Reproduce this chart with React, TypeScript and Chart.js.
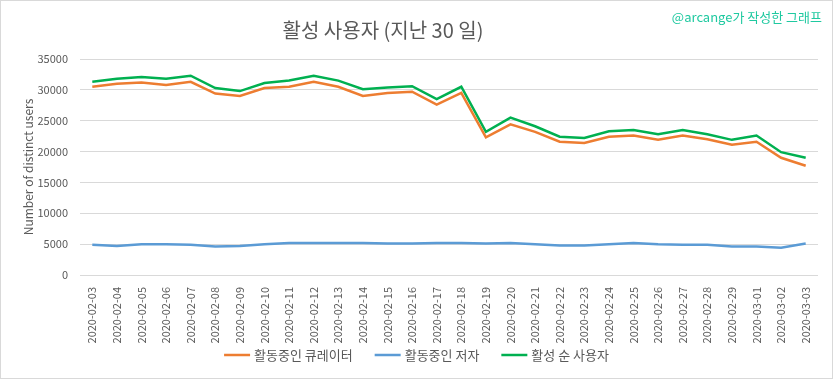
import React, { useEffect, useRef } from "react";
import { Chart, registerables } from "chart.js";
Chart.register(...registerables);

const dates = [
  "2020-02-03", "2020-02-04", "2020-02-05", "2020-02-06", "2020-02-07", "2020-02-08",
  "2020-02-09", "2020-02-10", "2020-02-11", "2020-02-12", "2020-02-13", "2020-02-14",
  "2020-02-15", "2020-02-16", "2020-02-17", "2020-02-18", "2020-02-19", "2020-02-20",
  "2020-02-21", "2020-02-22", "2020-02-23", "2020-02-24", "2020-02-25", "2020-02-26",
  "2020-02-27", "2020-02-28", "2020-02-29", "2020-03-01", "2020-03-02", "2020-03-03",
];

const curators = [
  30500, 31000, 31200, 30800, 31300, 29400, 29000, 30300, 30500, 31300,
  30500, 29000, 29500, 29700, 27600, 29500, 22300, 24400, 23200, 21600,
  21400, 22400, 22600, 21900, 22600, 22000, 21100, 21600, 19000, 17700,
];

const authors = [
  4900, 4700, 5000, 5000, 4900, 4600, 4700, 5000, 5200, 5200,
  5200, 5200, 5100, 5100, 5200, 5200, 5100, 5200, 5000, 4800,
  4800, 5000, 5200, 5000, 4900, 4900, 4600, 4600, 4400, 5100,
];

const activeUsers = [
  31300, 31800, 32100, 31800, 32300, 30300, 29800, 31100, 31500, 32300,
  31500, 30100, 30400, 30600, 28500, 30500, 23200, 25500, 24100, 22400,
  22200, 23300, 23500, 22800, 23500, 22800, 21900, 22600, 19900, 19000,
];

const seriesNames = ["활동중인 큐레이터", "활동중인 저자", "활성 순 사용자"];
const seriesColors = ["#ED7D31", "#5B9BD5", "#00B050"];
const titleText = "활성 사용자 (지난 30 일)";
const watermarkText = "@arcange가 작성한 그래프";
const yTitle = "Number of distinct users";

const FONT = "'Noto Sans CJK KR', 'Noto Sans', sans-serif";
const W = 831;
const H = 377;

const decorPlugin = {
  id: "decor",
  afterDraw(chart: any) {
    const ctx = chart.ctx;
    ctx.save();
    // title
    ctx.fillStyle = "#595959";
    ctx.font = `20px ${FONT}`;
    ctx.textAlign = "center";
    ctx.textBaseline = "middle";
    ctx.fillText(titleText, 382, 29);
    // watermark
    ctx.fillStyle = "#1FC9A0";
    ctx.font = `13px ${FONT}`;
    ctx.textAlign = "right";
    ctx.fillText(watermarkText, 821, 16);
    // legend
    ctx.font = `13px ${FONT}`;
    ctx.textAlign = "left";
    const lineW = 26;
    const gapText = 4;
    const gapItem = 22;
    const ds = chart.data.datasets;
    const widths = ds.map((d: any) => lineW + gapText + ctx.measureText(d.label).width);
    const total = widths.reduce((a: number, b: number) => a + b, 0) + gapItem * (ds.length - 1);
    let x = W / 2 - total / 2;
    const y = 354;
    ds.forEach((d: any, i: number) => {
      ctx.strokeStyle = d.borderColor;
      ctx.lineWidth = 2.5;
      ctx.beginPath();
      ctx.moveTo(x, y);
      ctx.lineTo(x + lineW, y);
      ctx.stroke();
      ctx.fillStyle = "#595959";
      ctx.fillText(d.label, x + lineW + gapText, y);
      x += widths[i] + gapItem;
    });
    ctx.restore();
  },
};

export default function App() {
  const ref = useRef<HTMLCanvasElement>(null);
  useEffect(() => {
    document.body.style.margin = "0";
    const chart = new Chart(ref.current!, {
      type: "line",
      data: {
        labels: dates,
        datasets: [
          { label: seriesNames[0], data: curators, borderColor: seriesColors[0], backgroundColor: seriesColors[0] },
          { label: seriesNames[1], data: authors, borderColor: seriesColors[1], backgroundColor: seriesColors[1] },
          { label: seriesNames[2], data: activeUsers, borderColor: seriesColors[2], backgroundColor: seriesColors[2] },
        ].map((d) => ({ ...d, borderWidth: 2.5, pointRadius: 0, tension: 0, fill: false })),
      },
      options: {
        responsive: false,
        animation: false,
        devicePixelRatio: 1,
        layout: { padding: { top: 58, right: 14, left: 0, bottom: 33 } },
        plugins: {
          legend: { display: false },
          title: { display: false },
          tooltip: { enabled: false },
        },
        scales: {
          x: {
            offset: true,
            grid: { display: false },
            border: { display: false },
            ticks: {
              color: "#595959",
              font: { size: 11, family: FONT },
              minRotation: 90,
              maxRotation: 90,
              autoSkip: false,
              padding: 4,
            },
            afterFit: (s: any) => { s.height = 70; },
          },
          y: {
            min: 0,
            max: 35000,
            ticks: {
              stepSize: 5000,
              color: "#595959",
              font: { size: 11, family: FONT },
              padding: 12,
              callback: (v: any) => String(v),
            },
            grid: { color: "#D9D9D9", drawTicks: false, lineWidth: 1 },
            border: { display: false },
            title: {
              display: true,
              text: yTitle,
              color: "#595959",
              font: { size: 12, family: FONT },
              padding: { top: 20, bottom: 0 },
            },
            afterFit: (s: any) => { s.width = 79; },
          },
        },
      },
      plugins: [decorPlugin],
    });
    return () => chart.destroy();
  }, []);
  return (
    <div style={{ width: 833, height: 379, boxSizing: "border-box", border: "1px solid #D9D9D9", background: "#fff" }}>
      <canvas ref={ref} width={W} height={H} style={{ display: "block" }} />
    </div>
  );
}
